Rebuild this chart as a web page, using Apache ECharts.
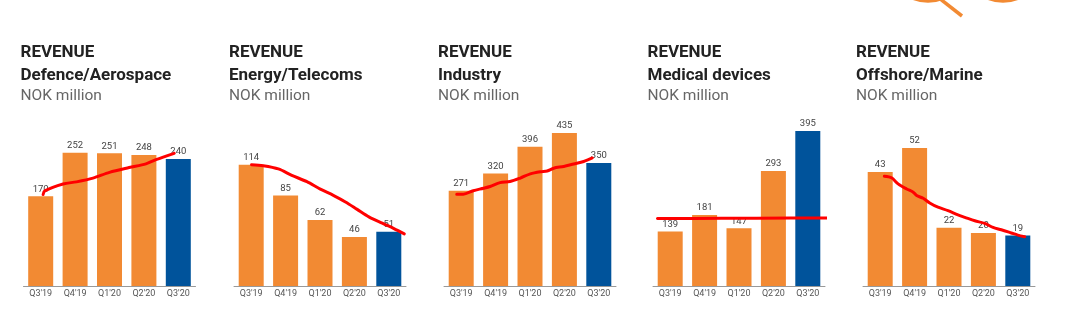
<!DOCTYPE html>
<html>
<head>
<meta charset="utf-8">
<script src="https://cdn.jsdelivr.net/npm/echarts@6/dist/echarts.min.js"></script>
<style>
  html, body { margin: 0; padding: 0; background: #fff; }
  #chart { width: 1087px; height: 323px; }
</style>
</head>
<body>
<div id="chart"></div>
<script>
// Quarter labels shared by all five panels
const quarters = ["Q3'19", "Q4'19", "Q1'20", "Q2'20", "Q3'20"];

// Segment names
const segments = ['Defence/Aerospace', 'Energy/Telecoms', 'Industry', 'Medical devices', 'Offshore/Marine'];

// Quarterly revenue, NOK million
const defence = [170, 252, 251, 248, 240];
const energy = [114, 85, 62, 46, 51];
const industry = [271, 320, 396, 435, 350];
const medical = [139, 181, 147, 293, 395];
const offshore = [43, 52, 22, 20, 19];

// Hand-drawn trend strokes: [quarter position (0 = Q3'19), NOK million]
const trendDefence = [[0.07, 173], [0.12, 180], [0.65, 193], [1.04, 197], [1.52, 204], [2.0, 215], [2.57, 224], [3.06, 231], [3.35, 239], [3.88, 251]];
const trendEnergy = [[0.01, 114], [0.35, 113], [0.79, 110], [1.18, 104], [1.62, 98], [2.01, 91], [2.4, 85], [2.74, 79], [3.08, 72], [3.42, 65], [3.81, 59], [4.15, 54], [4.45, 49]];
const trendIndustry = [[-0.13, 261], [0.06, 261], [0.35, 271], [0.65, 278], [0.84, 283], [1.13, 294], [1.42, 297], [1.72, 307], [2.01, 319], [2.3, 325], [2.5, 327], [2.69, 335], [2.98, 340], [3.27, 347], [3.56, 354], [3.81, 364]];
const trendMedical = [[-0.37, 172], [1.5, 172.5], [3.5, 173], [4.65, 173.5], [4.75, 176]];
const trendOffshore = [[0.12, 41.4], [0.33, 40.8], [0.52, 38.5], [0.77, 36.6], [0.96, 35.4], [1.06, 34.1], [1.25, 33.1], [1.44, 31.3], [1.68, 29.7], [1.97, 28.4], [2.26, 26.8], [2.46, 25.9], [2.75, 24.6], [3.04, 23.6], [3.28, 22.1], [3.52, 21.2], [3.81, 20.0], [4.0, 19.2], [4.2, 18.6]];

const ORANGE = '#F28A33';
const BLUE = '#00539B';
const FONT = 'Roboto, "Liberation Sans", sans-serif';

const panels = [
  { name: segments[0], values: defence, trend: trendDefence, left: 23.5, titleLeft: 20.5, max: 314 },
  { name: segments[1], values: energy, trend: trendEnergy, left: 234, titleLeft: 229, max: 156 },
  { name: segments[2], values: industry, trend: trendIndustry, left: 444, titleLeft: 438, max: 472 },
  { name: segments[3], values: medical, trend: trendMedical, left: 653, titleLeft: 647.5, max: 423 },
  { name: segments[4], values: offshore, trend: trendOffshore, left: 863, titleLeft: 856, max: 62.6 }
];

const option = {
  animation: false,
  backgroundColor: '#fff',
  title: [],
  grid: [],
  xAxis: [],
  yAxis: [],
  series: [],
  graphic: [
    // orange decoration along the top edge
    { type: 'circle', shape: { cx: 928, cy: -38, r: 39 }, style: { fill: 'none', stroke: ORANGE, lineWidth: 3.5 } },
    { type: 'line', shape: { x1: 939, y1: -2, x2: 962, y2: 16 }, style: { stroke: ORANGE, lineWidth: 3.5 } },
    { type: 'circle', shape: { cx: 1003, cy: -38, r: 39 }, style: { fill: 'none', stroke: ORANGE, lineWidth: 3.5 } }
  ]
};

panels.forEach((p, i) => {
  option.title.push({
    left: p.titleLeft,
    top: 41,
    padding: 0,
    itemGap: 0,
    text: 'REVENUE\n' + p.name,
    subtext: 'NOK million',
    textStyle: { fontFamily: FONT, fontWeight: 'bold', fontSize: 17, lineHeight: 23, color: '#222' },
    subtextStyle: { fontFamily: FONT, fontSize: 15.5, lineHeight: 18, color: '#666' }
  });
  option.grid.push({ left: p.left, width: 172, top: 120, bottom: 37, containLabel: false });
  // category axis for bars
  option.xAxis.push({
    type: 'category', gridIndex: i, data: quarters,
    axisTick: { show: false },
    axisLine: { lineStyle: { color: '#999', width: 1 } },
    axisLabel: { fontFamily: FONT, fontSize: 9, color: '#555', margin: 3 }
  });
  // matching numeric axis for the trend stroke
  option.xAxis.push({ type: 'value', gridIndex: i, min: -0.5, max: 4.5, show: false });
  option.yAxis.push({ type: 'value', gridIndex: i, min: 0, max: p.max, show: false });

  option.series.push({
    type: 'bar',
    xAxisIndex: i * 2,
    yAxisIndex: i,
    barWidth: 25,
    data: p.values.map((v, k) => ({ value: v, itemStyle: { color: k === p.values.length - 1 ? BLUE : ORANGE } })),
    label: { show: true, position: 'top', distance: 2, fontFamily: FONT, fontSize: 9.5, color: '#444' },
    z: 2
  });
  option.series.push({
    type: 'line',
    xAxisIndex: i * 2 + 1,
    yAxisIndex: i,
    data: p.trend,
    smooth: 0.3,
    symbol: 'none',
    clip: false,
    lineStyle: { color: '#FF0000', width: 3, cap: 'round', join: 'round' },
    z: 5
  });
});

const chart = echarts.init(document.getElementById('chart'), null, { renderer: 'canvas' });
chart.setOption(option);
</script>
</body>
</html>
